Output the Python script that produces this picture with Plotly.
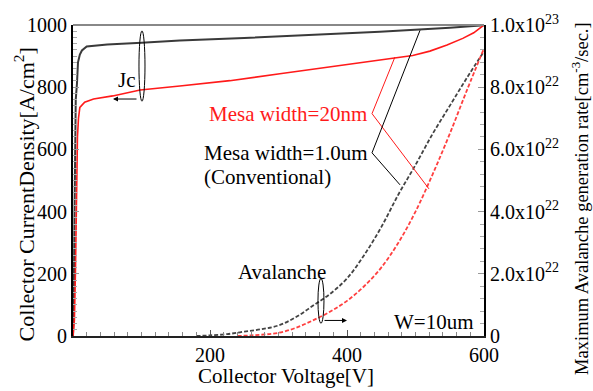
import plotly.graph_objects as go

# ---- data ----
jc_conv_v = [0, 1, 2, 2.8, 4, 5.8, 7.3, 10, 13, 20, 50, 100, 156, 250, 350, 448, 550, 600]
jc_conv_j = [0, 80, 350, 650, 760, 812, 880, 905, 918, 931, 937, 943, 950, 958, 967, 978, 991, 999]

jc_mesa_v = [0, 2, 3.5, 4.5, 5.5, 6.5, 8, 10, 17, 30, 58, 98, 156, 229, 302, 375, 448, 496, 521, 546, 569, 585, 600]
jc_mesa_j = [0, 50, 200, 400, 550, 640, 700, 735, 752, 762, 772, 791, 804, 821, 843, 865, 888, 902, 916, 936, 957, 975, 1000]

aval_conv_v = [180, 200, 225, 250, 275, 300, 325, 350, 375, 400, 425, 450, 475, 500, 525, 550, 575, 600]
aval_conv_g = [0, 0.02, 0.06, 0.14, 0.22, 0.34, 0.6, 0.97, 1.35, 1.85, 2.6, 3.5, 4.55, 5.5, 6.5, 7.4, 8.3, 9.15]  # x1e22

aval_mesa_v = [240, 260, 280, 300, 325, 350, 375, 400, 425, 450, 475, 500, 525, 550, 575, 600]
aval_mesa_g = [0, 0.02, 0.05, 0.1, 0.26, 0.5, 0.78, 1.13, 1.6, 2.2, 3.0, 4.0, 5.2, 6.5, 7.9, 9.25]  # x1e22

x_ticks = [200, 400, 600]
y_ticks = [0, 200, 400, 600, 800, 1000]
y2_ticks = [0, 2, 4, 6, 8, 10]
y2_labels = ["0", "2.0x10<sup>22</sup>", "4.0x10<sup>22</sup>", "6.0x10<sup>22</sup>",
             "8.0x10<sup>22</sup>", "1.0x10<sup>23</sup>"]

FONT = "'Liberation Serif', 'Times New Roman', Times, serif"
RED = "#ff1a1a"
DARK = "#3a3a3a"

fig = go.Figure()
fig.add_trace(go.Scatter(x=jc_conv_v, y=jc_conv_j, mode="lines",
                         line=dict(color=DARK, width=2), showlegend=False))
fig.add_trace(go.Scatter(x=jc_mesa_v, y=jc_mesa_j, mode="lines",
                         line=dict(color=RED, width=1.6), showlegend=False))
fig.add_trace(go.Scatter(x=aval_conv_v, y=aval_conv_g, mode="lines", yaxis="y2",
                         line=dict(color="#444444", width=1.8, dash="4px,2px", shape="spline"),
                         showlegend=False))
fig.add_trace(go.Scatter(x=aval_mesa_v, y=aval_mesa_g, mode="lines", yaxis="y2",
                         line=dict(color="#ff4040", width=1.8, dash="4px,2px", shape="spline"),
                         showlegend=False))

tf = dict(family=FONT, size=20, color="black")

fig.update_layout(
    width=593, height=391,
    margin=dict(l=73, r=109, t=17, b=55),
    paper_bgcolor="white", plot_bgcolor="white",
    font=dict(family=FONT, color="black"),
    xaxis=dict(range=[0, 600], tickvals=x_ticks, ticks="inside", ticklen=6,
               tickcolor="#555", tickwidth=1, showgrid=False, zeroline=False,
               showline=True, linecolor="#222", linewidth=2, tickfont=tf,
               minor=dict(dtick=20, ticks="inside", ticklen=4, tickcolor="#888")),
    yaxis=dict(range=[0, 1000], tickvals=y_ticks, ticks="inside", ticklen=6,
               tickcolor="#999", tickwidth=1, showgrid=False, zeroline=False,
               showline=True, linecolor="black", linewidth=2, tickfont=tf,
               minor=dict(dtick=20, ticks="inside", ticklen=4, tickcolor="#aaa")),
    yaxis2=dict(range=[0, 10], overlaying="y", side="right", tickvals=y2_ticks,
                ticktext=y2_labels, ticks="inside", ticklen=6, tickcolor="#999",
                showgrid=False, zeroline=False, showline=True, linecolor="black",
                linewidth=2, tickfont=tf,
                minor=dict(dtick=0.4, ticks="inside", ticklen=4, tickcolor="#aaa")),
)

# top border (grey)
fig.add_shape(type="line", xref="paper", yref="paper", x0=0, x1=1, y0=1, y1=1,
              line=dict(color="#888888", width=2))

C = dict(xanchor="center", yanchor="middle", showarrow=False)
# axis titles
fig.add_annotation(text="Collector Voltage[V]", xref="paper", yref="paper",
                   x=0.518, y=-0.1285, font=dict(family=FONT, size=21), **C)
fig.add_annotation(text="Collector CurrentDensity[A/cm<sup>2</sup>]", xref="paper", yref="paper",
                   x=-0.117, y=0.455, textangle=-90, font=dict(family=FONT, size=22), **C)
fig.add_annotation(text="Maximum Avalanche generation rate[cm<sup>-3</sup>/sec.]",
                   xref="paper", yref="paper", x=1.232, y=0.442, textangle=-90,
                   font=dict(family=FONT, size=18.5), **C)

af = dict(family=FONT, size=21, color="black")
# Jc group
fig.add_annotation(text="Jc", x=79, y=824, font=af, **C)
fig.add_shape(type="circle", x0=96.3, x1=105.1, y0=755, y1=981, line=dict(color="black", width=1))
fig.add_annotation(x=58.4, y=762, ax=94.9, ay=762, axref="x", ayref="y", text="",
                   showarrow=True, arrowhead=2, arrowsize=1, arrowwidth=1, arrowcolor="black")

# Avalanche group
fig.add_annotation(text="Avalanche", x=305, y=207, font=af, **C)
fig.add_shape(type="circle", x0=357.6, x1=366.4, y0=41, y1=185, line=dict(color="black", width=1))
fig.add_annotation(x=400, y=50, ax=365, ay=50, axref="x", ayref="y", text="",
                   showarrow=True, arrowhead=2, arrowsize=1, arrowwidth=1, arrowcolor="black")
fig.add_annotation(text="W=10um", x=527, y=44, font=af, **C)

# Mesa labels
L = dict(xanchor="left", yanchor="middle", showarrow=False)
fig.add_annotation(text="Mesa width=20nm", x=195.6, y=715,
                   font=dict(family=FONT, size=21, color=RED), **L)
fig.add_annotation(text="Mesa width=1.0um", x=188.3, y=589, font=af, **L)
fig.add_annotation(text="(Conventional)", x=188.3, y=510, font=af, **L)

# leader lines
fig.add_shape(type="line", x0=436.5, y0=715, x1=470, y1=897, line=dict(color=RED, width=1))
fig.add_shape(type="line", x0=436.5, y0=715, x1=519.7, y1=473, line=dict(color=RED, width=1))
fig.add_shape(type="line", x0=436.5, y0=589, x1=506.6, y1=983, line=dict(color="black", width=1))
fig.add_shape(type="line", x0=436.5, y0=589, x1=477.4, y1=486, line=dict(color="black", width=1))

fig.write_html("out.html")
